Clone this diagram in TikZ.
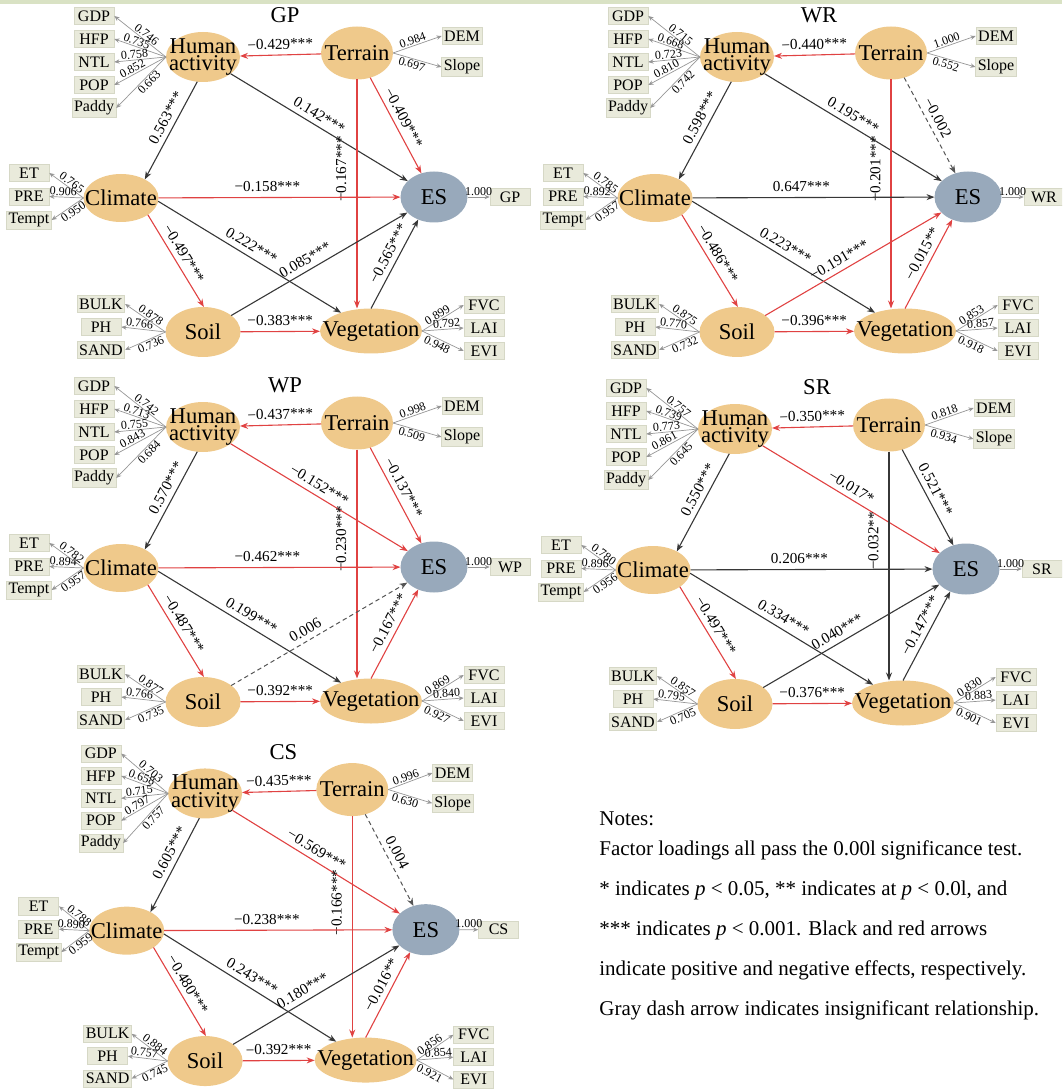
\documentclass[tikz,border=0pt]{standalone}
\usepackage{fontspec}
\setmainfont{Liberation Serif}
\usetikzlibrary{arrows.meta, shapes.geometric, calc}

\definecolor{latfill}{RGB}{239,201,139}
\definecolor{esfill}{RGB}{152,169,187}
\definecolor{indfill}{RGB}{233,234,219}
\definecolor{indline}{RGB}{214,216,198}
\definecolor{negred}{RGB}{224,66,66}
\definecolor{posblack}{RGB}{55,55,55}
\definecolor{nsgray}{RGB}{85,85,85}
\definecolor{loadgray}{RGB}{150,150,150}
\definecolor{bandgreen}{RGB}{217,226,196}

\newcommand{\latfont}{\fontsize{11.3}{8.6}\selectfont}
\newcommand{\indfont}{\fontsize{8}{9}\selectfont}
\newcommand{\pathfont}{\fontsize{7.6}{9}\selectfont}
\newcommand{\loadfont}{\fontsize{6}{7}\selectfont}
\newcommand{\notefont}{\fontsize{10.5}{20}\selectfont}

% indicator boxes + loading arrows
% #1 latent anchor, #2 box x, #3 first y, #4 step, #5 count, #6 box side, #7 name/value list
\newcommand{\indicators}[7]{%
  \foreach \nm/\val [count=\i] in {#7}{
    \node[ind] (\nm) at (#2,{#3+#4*(\i-1)}) {\nm};
    \ifnum\i=1 \def\ls{lfirst}\else\ifnum\i=#5 \def\ls{llast}\else\def\ls{lmid}\fi\fi
    \draw[load] (#1) -- node[\ls] {\val} (\nm.#6);
  }}

% one SEM panel
% #1 title, #2 human activity, #3 climate, #4 soil, #5 vegetation, #6 terrain, #7 paths
\newcommand{\sempanel}[7]{%
  \node[paneltitle] (title) at (285,15) {#1};
  %% latent variables
  \node[lat, minimum width=37pt, minimum height=25pt, label={[lattext]center:Human\\activity}] (HA) at (203,57) {};
  \node[lat, minimum width=36pt, minimum height=26.5pt, label={[lattext]center:Terrain}] (TE) at (357,53) {};
  \node[lat, minimum width=37.5pt, minimum height=24pt, label={[lattext]center:Climate}] (CL) at (121,198) {};
  \node[lat, minimum width=37.5pt, minimum height=25pt, label={[lattext]center:Soil}] (SO) at (203,332) {};
  \node[lat, minimum width=51pt, minimum height=22.5pt, label={[lattext]center:Vegetation}] (VE) at (371,331) {};
  \node[lat, fill=esfill, minimum width=33.5pt, minimum height=25.5pt, label={[lattext]center:ES}] (ES) at (434,197) {};
  %% observed indicators
  \indicators{HA.west}{94}{16}{23}{5}{east}{#2}
  \indicators{CL.west}{29}{173}{23.5}{3}{east}{#3}
  \indicators{SO.west}{101}{304}{23}{3}{east}{#4}
  \indicators{VE.east}{484}{305}{23}{3}{west}{#5}
  \indicators{TE.east}{462}{36}{31}{2}{west}{#6}
  \node[ind] (OUT) at (510,197) {#1};
  \draw[load] (ES) -- node[lfirst, pos=.5] {1.000} (OUT);
  %% structural paths, order:
  %% TE>HA, HA>CL, HA>ES, TE>ES, TE>VE, CL>ES, CL>SO, CL>VE, SO>ES, SO>VE, VE>ES
  \foreach \sty/\val [count=\kk] in {#7}{
    \ifcase\kk\or
      \draw[\sty] (TE) -- node[plab, pos=.5] {\val} (HA);
    \or
      \draw[\sty] (HA.257) -- node[plab, pos=.42] {\val} (CL.38);
    \or
      \draw[\sty] (HA) -- node[plab, pos=.47] {\val} (ES);
    \or
      \draw[\sty] (TE) -- node[plab, pos=.47] {\val} (ES);
    \or
      \draw[\sty] (TE.south) -- node[vlab, pos=.39] {\val} (TE.south |- VE.north);
    \or
      \draw[\sty] (CL) -- node[plab, pos=.45] {\val} (ES);
    \or
      \draw[\sty] (CL.-32) -- node[plab, pos=.48] {\val} (SO.88);
    \or
      \draw[\sty] (CL.-5) -- node[plab, pos=.48] {\val} (VE);
    \or
      \draw[\sty] (SO) -- node[plab, pos=.45] {\val} (ES);
    \or
      \draw[\sty] (SO) -- node[plab, pos=.5] {\val} (VE);
    \or
      \draw[\sty] (VE.north) -- node[plab, pos=.56] {\val} (ES.235);
    \fi
  }}

\begin{document}
\begin{tikzpicture}[
  x=0.5pt, y=-0.5pt,
  lat/.style={ellipse, fill=latfill, inner sep=0pt, outer sep=0pt},
  lattext/.style={font=\latfont, align=center, inner sep=0pt},
  paneltitle/.style={font=\latfont, inner sep=0pt},
  ind/.style={rectangle, fill=indfill, draw=indline, line width=.3pt,
    font=\indfont, minimum width=20pt, minimum height=8.6pt, inner sep=1pt},
  load/.style={draw=loadgray, line width=.35pt, -{Stealth[length=2.6pt, width=2.2pt]}},
  lfirst/.style={font=\loadfont, sloped, above, pos=.44, inner sep=.6pt},
  lmid/.style={font=\loadfont, sloped, above, pos=.6, inner sep=.6pt},
  llast/.style={font=\loadfont, sloped, below, pos=.42, inner sep=.6pt},
  posarr/.style={draw=posblack, line width=.55pt, -{Stealth[length=4pt, width=3pt]}},
  negarr/.style={draw=negred, line width=.55pt, -{Stealth[length=4pt, width=3pt]}},
  nsarr/.style={draw=nsgray, line width=.5pt, dash pattern=on 2.2pt off 1.6pt,
    -{Stealth[length=4pt, width=3pt]}},
  plab/.style={font=\pathfont, sloped, above, inner sep=2.5pt},
  vlab/.style={font=\pathfont, rotate=90, anchor=south, inner sep=1pt, inner ysep=5pt},
  notes/.style={font=\notefont, align=left, inner sep=0pt}
]
\useasboundingbox (0,0) rectangle (1062,1090);
\clip (0,0) rectangle (1062,1090);
\fill[bandgreen] (0,0) rectangle (1062,4);

%% ==== GP ====
\begin{scope}[name prefix=gp-]
\sempanel{GP}
  {GDP/0.746, HFP/0.735, NTL/0.758, POP/0.852, Paddy/0.663}
  {ET/0.765, PRE/0.906, Tempt/0.950}
  {BULK/0.878, PH/0.766, SAND/0.736}
  {FVC/0.899, LAI/0.792, EVI/0.948}
  {DEM/0.984, Slope/0.697}
  {negarr/−0.429***, posarr/0.563***, posarr/0.142***, negarr/−0.409***,
   negarr/−0.167***, negarr/−0.158***, negarr/−0.497***, posarr/0.222***,
   posarr/0.085***, negarr/−0.383***, posarr/−0.565***}
\end{scope}

%% ==== WR ====
\begin{scope}[shift={(534,0)}, name prefix=wr-]
\sempanel{WR}
  {GDP/0.715, HFP/0.668, NTL/0.723, POP/0.810, Paddy/0.742}
  {ET/0.785, PRE/0.892, Tempt/0.957}
  {BULK/0.875, PH/0.770, SAND/0.732}
  {FVC/0.853, LAI/0.857, EVI/0.918}
  {DEM/1.000, Slope/0.552}
  {negarr/−0.440***, posarr/0.598***, posarr/0.195***, nsarr/−0.002,
   negarr/−0.201***, posarr/0.647***, negarr/−0.486***, posarr/0.223***,
   negarr/−0.191***, negarr/−0.396***, negarr/−0.015**}
\end{scope}

%% ==== WP ====
\begin{scope}[shift={(0,370)}, name prefix=wp-]
\sempanel{WP}
  {GDP/0.742, HFP/0.713, NTL/0.755, POP/0.843, Paddy/0.684}
  {ET/0.782, PRE/0.894, Tempt/0.957}
  {BULK/0.877, PH/0.766, SAND/0.735}
  {FVC/0.869, LAI/0.840, EVI/0.927}
  {DEM/0.998, Slope/0.509}
  {negarr/−0.437***, posarr/0.570***, negarr/−0.152***, negarr/−0.137***,
   negarr/−0.230***, negarr/−0.462***, negarr/−0.487***, posarr/0.199***,
   nsarr/0.006, negarr/−0.392***, negarr/−0.167***}
\end{scope}

%% ==== SR ====
\begin{scope}[shift={(532,372)}, name prefix=sr-]
\sempanel{SR}
  {GDP/0.757, HFP/0.739, NTL/0.773, POP/0.861, Paddy/0.645}
  {ET/0.780, PRE/0.896, Tempt/0.956}
  {BULK/0.857, PH/0.795, SAND/0.705}
  {FVC/0.830, LAI/0.883, EVI/0.901}
  {DEM/0.818, Slope/0.934}
  {negarr/−0.350***, posarr/0.550***, negarr/−0.017*, posarr/0.521***,
   posarr/−0.032**, posarr/0.206***, negarr/−0.497***, posarr/0.334***,
   posarr/0.040***, negarr/−0.376***, posarr/−0.147***}
\end{scope}

%% ==== CS ====
\begin{scope}[shift={(11,738)}, xscale=.956, yscale=.973, name prefix=cs-]
\sempanel{CS}
  {GDP/0.703, HFP/0.658, NTL/0.715, POP/0.797, Paddy/0.757}
  {ET/0.788, PRE/0.890, Tempt/0.959}
  {BULK/0.884, PH/0.757, SAND/0.745}
  {FVC/0.856, LAI/0.854, EVI/0.921}
  {DEM/0.996, Slope/0.630}
  {negarr/−0.435***, posarr/0.605***, negarr/−0.569***, nsarr/0.004,
   negarr/−0.166***, negarr/−0.238***, negarr/−0.480***, posarr/0.243***,
   posarr/0.180***, negarr/−0.392***, negarr/−0.016**}
\end{scope}

%% ==== Notes ====
\node[notes, anchor=north west] (notes) at (599,811) {Notes:\\[-5pt]
  Factor loadings all pass the 0.00l significance test.\\
  * indicates \textit{p} < 0.05, ** indicates at \textit{p} < 0.0l, and\\
  *** indicates \textit{p} < 0.001. Black and red arrows\\
  indicate positive and negative effects, respectively.\\
  Gray dash arrow indicates insignificant relationship.};

\end{tikzpicture}
\end{document}
